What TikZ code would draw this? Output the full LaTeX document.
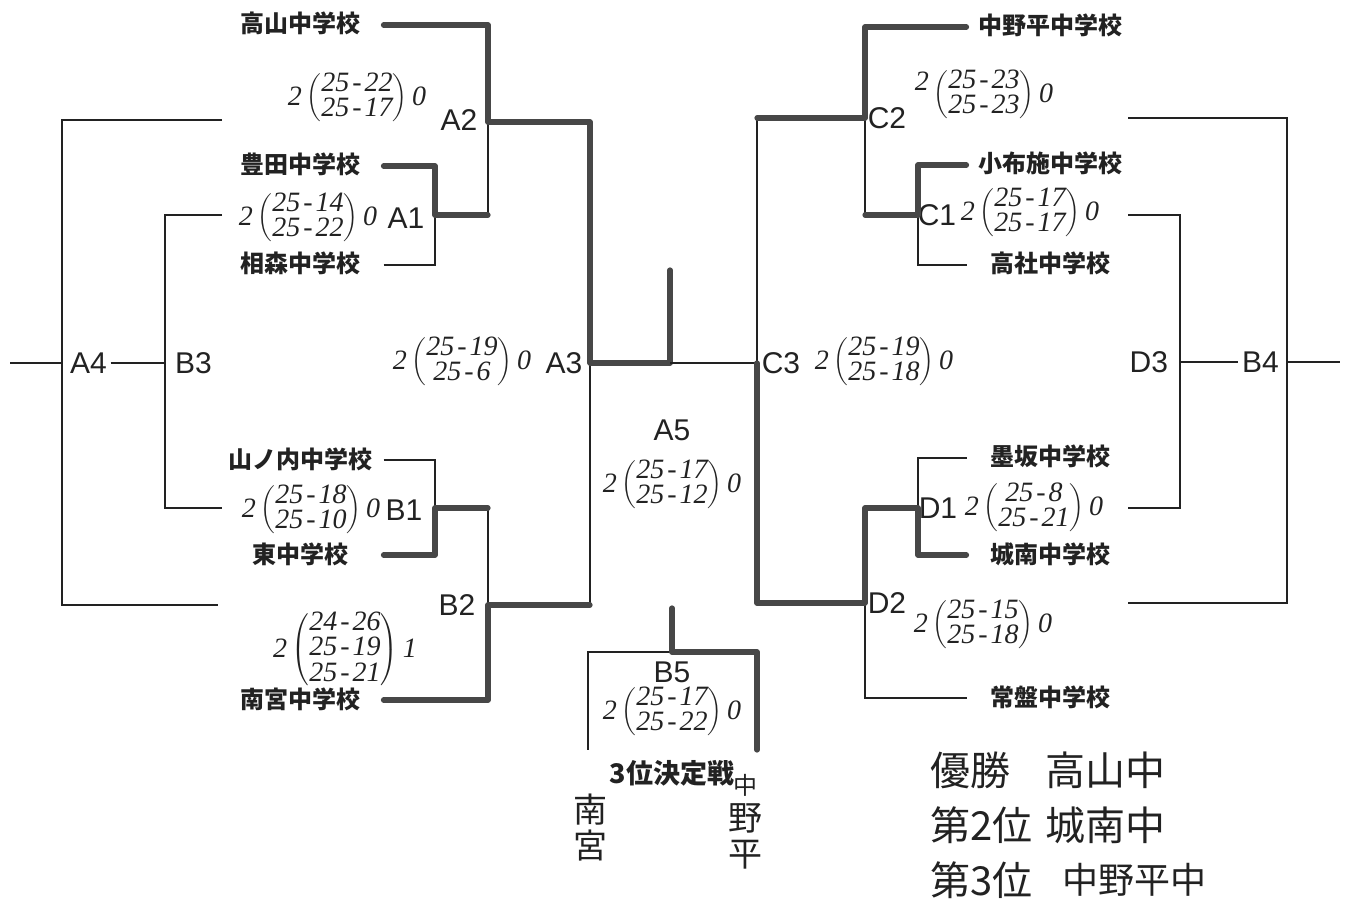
\documentclass[tikz,border=0pt]{standalone}
\usepackage{fontspec}
\setmainfont{Liberation Sans}
\newfontfamily\jp{Noto Sans CJK JP}
\newfontfamily\hw{Liberation Serif}
\newcommand\hwd{\kern1.5pt-\kern1.5pt}
\newcommand\scoreb[4]{#1\,$\left(\def\arraystretch{0.82}\begin{array}{@{}c@{}}\mbox{#2}\\\mbox{#3}\end{array}\right)$\,#4}
\newcommand\scorec[5]{#1\,$\left(\def\arraystretch{0.82}\begin{array}{@{}c@{}}\mbox{#2}\\\mbox{#3}\\\mbox{#4}\end{array}\right)$\,#5}
\definecolor{ink}{HTML}{222222}
\definecolor{mark}{HTML}{474747}
\tikzset{
  school/.style={font=\jp\bfseries\fontsize{12}{14}\selectfont, text=ink, inner sep=0pt, outer sep=5.75pt, text width=72pt, align=center, text height=9.5pt, text depth=1.5pt},
  third/.style={font=\jp\bfseries\fontsize{13.5}{15}\selectfont, text=ink, inner sep=0pt},
  lab/.style={font=\fontsize{15}{17}\selectfont, text=ink, inner sep=0pt, outer sep=2pt},
  score/.style={font=\hw\itshape\fontsize{14}{14}\selectfont, text=ink, inner sep=0pt},
  hand/.style={font=\jp\fontsize{20}{24}\selectfont, text=ink, inner sep=0pt},
  handv/.style={font=\jp\fontsize{17}{18}\selectfont, text=ink, inner sep=0pt, align=center},
  bthin/.style={line width=1pt, draw=ink},
  bmid/.style={line width=1.4pt, draw=ink},
  bthick/.style={line width=2.6pt, draw=mark, line cap=round, line join=round},
}
\begin{document}
\begin{tikzpicture}[x=0.5pt, y=-0.5pt]
\useasboundingbox (0,0) rectangle (1350,909);

% ---------- junction coordinates ----------
\coordinate (a2) at (488,122);
\coordinate (a1) at (435,215);
\coordinate (a1r) at (488,215);
\coordinate (a3) at (590,363);
\coordinate (b1) at (435,508);
\coordinate (b1r) at (488,508);
\coordinate (b2) at (488,605);
\coordinate (a3b) at (590,605);
\coordinate (fin) at (670,363);
\coordinate (finTop) at (670,270);
\coordinate (c3) at (757,363);
\coordinate (c3t) at (757,118);
\coordinate (c3b) at (757,603);
\coordinate (c2) at (865,118);
\coordinate (c1l) at (865,215);
\coordinate (c1) at (918,215);
\coordinate (d2) at (865,603);
\coordinate (d1l) at (865,508);
\coordinate (d1) at (918,508);
% outer left
\coordinate (a4t) at (222,120);
\coordinate (a4b) at (218,605);
\coordinate (a4) at (62,363);
\coordinate (b3t) at (222,215);
\coordinate (b3b) at (222,508);
\coordinate (b3) at (165,363);
\coordinate (lend) at (10,363);
% outer right
\coordinate (d3t) at (1128,215);
\coordinate (d3b) at (1128,508);
\coordinate (d3) at (1180,362);
\coordinate (b4t) at (1128,118);
\coordinate (b4b) at (1128,603);
\coordinate (b4) at (1287,362);
\coordinate (rend) at (1340,362);
% B5
\coordinate (b5t) at (672,608);
\coordinate (b5) at (672,652);
\coordinate (b5l) at (588,652);
\coordinate (b5r) at (757,652);
\coordinate (b5lb) at (588,750);
\coordinate (b5rb) at (757,750);

% ---------- schools ----------
\node[school] (tak) at (300,25) {高山中学校};
\node[school] (toy) at (300,166) {豊田中学校};
\node[school] (aim) at (300,265) {相森中学校};
\node[school] (yam) at (300,460) {山ノ内中学校};
\node[school] (hig) at (300,555) {東中学校};
\node[school] (min) at (300,700) {南宮中学校};
\node[school] (nak) at (1050,27) {中野平中学校};
\node[school] (kof) at (1050,165) {小布施中学校};
\node[school] (kos) at (1050,265) {高社中学校};
\node[school] (sum) at (1050,458) {墨坂中学校};
\node[school] (jo) at (1050,555) {城南中学校};
\node[school] (tok) at (1050,698) {常盤中学校};

% ---------- match labels ----------
\node[lab] (A2) at (459,120) {A2};
\node[lab] (A1) at (406,218) {A1};
\node[lab] (A3) at (564,363) {A3};
\node[lab] (B1) at (404,510) {B1};
\node[lab] (B2) at (457,605) {B2};
\node[lab, anchor=west] (A4) at (66,363) {A4};
\node[lab, anchor=west] (B3) at (171,363) {B3};
\node[lab] (A5) at (672,430) {A5};
\node[lab] (B5) at (672,672) {B5};
\node[lab] (C2) at (887,118) {C2};
\node[lab] (C1) at (937,215) {C1};
\node[lab] (C3) at (781,363) {C3};
\node[lab] (D1) at (938,508) {D1};
\node[lab] (D2) at (887,603) {D2};
\node[lab, anchor=east] (D3) at (1172,362) {D3};
\node[lab, anchor=west] (B4) at (1238,362) {B4};

% ---------- scores ----------
\node[score] (sA2) at (357,98) {\scoreb{2}{25\hwd22}{25\hwd17}{0}};
\node[score] (sA1) at (308,218) {\scoreb{2}{25\hwd14}{25\hwd22}{0}};
\node[score] (sA3) at (462,362) {\scoreb{2}{25\hwd19}{25\hwd6}{0}};
\node[score] (sB1) at (311,510) {\scoreb{2}{25\hwd18}{25\hwd10}{0}};
\node[score] (sB2) at (345,650) {\scorec{2}{24\hwd26}{25\hwd19}{25\hwd21}{1}};
\node[score] (sA5) at (672,485) {\scoreb{2}{25\hwd17}{25\hwd12}{0}};
\node[score] (sB5) at (672,712) {\scoreb{2}{25\hwd17}{25\hwd22}{0}};
\node[score] (sC3) at (884,362) {\scoreb{2}{25\hwd19}{25\hwd18}{0}};
\node[score] (sC2) at (984,95) {\scoreb{\raisebox{6pt}{2}}{25\hwd23}{25\hwd23}{0}};
\node[score] (sC1) at (1030,213) {\scoreb{2}{25\hwd17}{25\hwd17}{0}};
\node[score] (sD1) at (1034,508) {\scoreb{2}{25\hwd8}{25\hwd21}{0}};
\node[score] (sD2) at (983,625) {\scoreb{2}{25\hwd15}{25\hwd18}{0}};

% ---------- left bracket ----------
\draw[bthin] (a2) -- (a1r);
\draw[bthin] (aim.east) -| (a1);
\draw[bthin] (yam.east) -| (b1);
\draw[bthin] (b1r) -- (b2);
\draw[bmid] (a3b) -- (a3);
\draw[bthick] (tak.east) -| (a2) -| (a3);
\draw[bthick] (a3) -- (fin) -- (finTop);
\draw[bthick] (toy.east) -| (a1) -- (a1r);
\draw[bthick] (hig.east) -| (b1) -- (b1r);
\draw[bthick] (min.east) -| (b2) -- (a3b);

% ---------- outer left ----------
\draw[bthin] (a4t) -| (a4) |- (a4b);
\draw[bthin] (b3t) -| (b3) |- (b3b);
\draw[bthin] (lend) -- (a4);
\draw[bthin] (A4) -- (b3);

% ---------- centre ----------
\draw[bthin] (fin) -- (c3);
\draw[bthin] (b5) -- (b5l) -- (b5lb);
\draw[bthick] (b5t) -- (b5) -- (b5r) -- (b5rb);
\node[third] (third) at (672,773) {3位決定戦};
\node[handv] (hmin) at (590,828) {南\\宮};
\node[handv] (hnak) at (745,822) {{\fontsize{12}{12}\selectfont 中}\\野\\平};

% ---------- right bracket ----------
\draw[bthin] (c3t) -- (c3);
\draw[bthin] (c2) -- (c1l);
\draw[bthin] (c1) |- (kos.west);
\draw[bthin] (d1) |- (sum.west);
\draw[bthin] (d2) |- (tok.west);
\draw[bthick] (nak.west) -| (c2) -- (c3t);
\draw[bthick] (c1l) -- (c1) |- (kof.west);
\draw[bthick] (c3) -- (c3b) -- (d2);
\draw[bthick] (d2) -- (d1l) -- (d1) |- (jo.west);

% ---------- outer right ----------
\draw[bthin] (d3t) -| (d3) |- (d3b);
\draw[bthin] (b4t) -| (b4) |- (b4b);
\draw[bthin] (d3) -- (B4);
\draw[bthin] (b4) -- (rend);

% ---------- results ----------
\node[hand, anchor=west] (r1a) at (930,770) {優勝};
\node[hand, anchor=west] (r1b) at (1045,770) {高山中};
\node[hand, anchor=west] (r2a) at (930,825) {第2位};
\node[hand, anchor=west] (r2b) at (1045,825) {城南中};
\node[hand, anchor=west] (r3a) at (930,880) {第3位};
\node[hand, anchor=west, font=\jp\fontsize{18}{22}\selectfont] (r3b) at (1062,880) {中野平中};
\end{tikzpicture}
\end{document}
